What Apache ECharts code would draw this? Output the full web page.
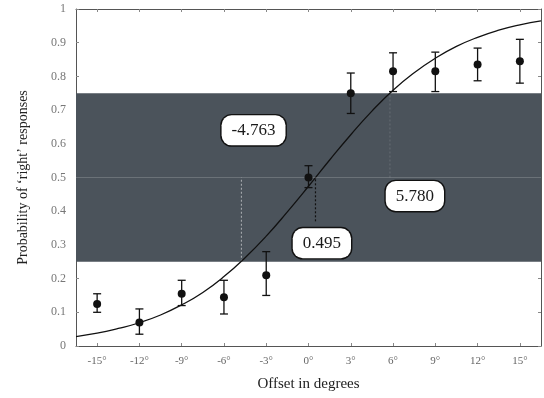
<!DOCTYPE html>
<html>
<head>
<meta charset="utf-8">
<script src="https://cdn.jsdelivr.net/npm/echarts@6/dist/echarts.min.js"></script>
<style>
  html, body { margin: 0; padding: 0; background: #fff; }
  #chart { width: 544px; height: 398px; }
</style>
</head>
<body>
<div id="chart"></div>
<script>
// observed proportions with error bars
const offsets = [-15, -12, -9, -6, -3, 0, 3, 6, 9, 12, 15]
const means = [0.125, 0.07, 0.155, 0.145, 0.21, 0.50, 0.75, 0.815, 0.815, 0.835, 0.845]
const lows = [0.10, 0.035, 0.12, 0.095, 0.15, 0.47, 0.69, 0.755, 0.755, 0.787, 0.78]
const highs = [0.155, 0.11, 0.195, 0.195, 0.28, 0.535, 0.81, 0.87, 0.872, 0.884, 0.91]

// fitted curve
const curveX = [-16.5, -15, -13.5, -12, -10.5, -9, -7.5, -6, -4.5, -3, -1.5, 0, 1.5, 3, 4.5, 6, 7.5, 9, 10.5, 12, 13.5, 15, 16.5]
const curveY = [0.028, 0.038, 0.052, 0.069, 0.092, 0.122, 0.159, 0.206, 0.262, 0.326, 0.398, 0.474, 0.552, 0.627, 0.697, 0.759, 0.811, 0.854, 0.889, 0.916, 0.937, 0.953, 0.965]

// thresholds and their labels
const thresholds = [-4.763, 0.495, 5.780]
const thresholdLabels = ['-4.763', '0.495', '5.780']
const labelSpots = [[-3.9, 0.64], [0.95, 0.305], [7.55, 0.445]]

const xTicks = [-15, -12, -9, -6, -3, 0, 3, 6, 9, 12, 15]
const band = [0.25, 0.75]

const SERIF = '"Liberation Serif", "DejaVu Serif", serif'

const chart = echarts.init(document.getElementById('chart'))

const errorBars = offsets.map((x, i) => [x, lows[i], highs[i]])

chart.setOption({
  animation: false,
  backgroundColor: '#fff',
  grid: { left: 76, right: 3, top: 9, bottom: 52 },
  xAxis: [
    {
      type: 'value', min: -16.5, max: 16.5,
      name: 'Offset in degrees', nameLocation: 'middle', nameGap: 31,
      nameTextStyle: { fontFamily: SERIF, fontSize: 15, color: '#222' },
      axisLine: { show: true, onZero: false, lineStyle: { color: '#555', width: 1 } },
      axisTick: { inside: true, length: 3, customValues: xTicks, lineStyle: { color: '#888' } },
      axisLabel: {
        customValues: xTicks, formatter: (v) => v + '°',
        fontFamily: SERIF, fontSize: 11, color: '#666', margin: 10,
      },
      splitLine: { show: false },
    },
    {
      type: 'value', min: -16.5, max: 16.5, position: 'top',
      axisLine: { show: true, onZero: false, lineStyle: { color: '#555', width: 1 } },
      axisTick: { inside: true, length: 3, customValues: xTicks, lineStyle: { color: '#888' } },
      axisLabel: { show: false },
      splitLine: { show: false },
    },
  ],
  yAxis: [
    {
      type: 'value', min: 0, max: 1, interval: 0.1,
      name: 'Probability of ‘right’ responses', nameLocation: 'middle', nameGap: 46,
      nameTextStyle: { fontFamily: SERIF, fontSize: 14, color: '#222' },
      axisLine: { show: true, onZero: false, lineStyle: { color: '#555', width: 1 } },
      axisTick: { show: true, inside: true, length: 3, lineStyle: { color: '#888' } },
      axisLabel: {
        formatter: (v) => String(Math.round(v * 10) / 10),
        fontFamily: SERIF, fontSize: 12, color: '#777', margin: 10,
      },
      splitLine: { show: false },
    },
    {
      type: 'value', min: 0, max: 1, interval: 0.1, position: 'right',
      axisLine: { show: true, onZero: false, lineStyle: { color: '#555', width: 1 } },
      axisTick: { show: true, inside: true, length: 3, lineStyle: { color: '#888' } },
      axisLabel: { show: false },
      splitLine: { show: false },
    },
  ],
  series: [
    {
      // shaded band between 25% and 75%
      type: 'line', data: [], silent: true, z: 1,
      markArea: {
        silent: true,
        itemStyle: { color: '#4b535b' },
        data: [[{ yAxis: band[0] }, { yAxis: band[1] }]],
      },
      markLine: {
        silent: true, symbol: 'none', label: { show: false },
        lineStyle: { color: 'rgba(255,255,255,0.18)', type: 'solid', width: 1 },
        data: [{ yAxis: 0.5 }],
      },
    },
    {
      // dotted drop lines at thresholds
      type: 'line', silent: true, symbol: 'none', z: 2,
      data: [[thresholds[0], band[0]], [thresholds[0], 0.5]],
      lineStyle: { color: 'rgba(255,255,255,0.55)', type: [2, 2], width: 1 },
    },
    {
      type: 'line', silent: true, symbol: 'none', z: 2,
      data: [[thresholds[1], 0.37], [thresholds[1], 0.5]],
      lineStyle: { color: '#111', type: [2, 2], width: 1.2 },
    },
    {
      type: 'line', silent: true, symbol: 'none', z: 2,
      data: [[thresholds[2], 0.5], [thresholds[2], band[1]]],
      lineStyle: { color: 'rgba(255,255,255,0.15)', type: [2, 2], width: 1 },
    },
    {
      name: 'fit', type: 'line', smooth: true, symbol: 'none', z: 3,
      data: curveX.map((x, i) => [x, curveY[i]]),
      lineStyle: { color: '#111', width: 1.3 },
    },
    {
      name: 'error', type: 'custom', z: 4,
      data: errorBars,
      renderItem: (params, api) => {
        const x = api.value(0)
        const lo = api.coord([x, api.value(1)])
        const hi = api.coord([x, api.value(2)])
        const cap = 4
        const style = { stroke: '#111', lineWidth: 1.3 }
        return {
          type: 'group',
          children: [
            { type: 'line', shape: { x1: lo[0], y1: lo[1], x2: hi[0], y2: hi[1] }, style },
            { type: 'line', shape: { x1: lo[0] - cap, y1: lo[1], x2: lo[0] + cap, y2: lo[1] }, style },
            { type: 'line', shape: { x1: hi[0] - cap, y1: hi[1], x2: hi[0] + cap, y2: hi[1] }, style },
          ],
        }
      },
    },
    {
      name: 'data', type: 'scatter', z: 5,
      symbol: 'circle', symbolSize: 8,
      itemStyle: { color: '#111', opacity: 1 },
      data: offsets.map((x, i) => [x, means[i]]),
    },
    {
      name: 'labels', type: 'scatter', z: 6, symbolSize: 0,
      itemStyle: { opacity: 1 },
      data: labelSpots.map((p, i) => ({ value: p, name: thresholdLabels[i] })),
      label: {
        show: true, position: 'inside', formatter: '{b}',
        fontFamily: SERIF, fontSize: 17, color: '#1a1a1a',
        backgroundColor: '#fff', borderColor: '#111', borderWidth: 1.4,
        borderRadius: 10, padding: [7, 10, 6, 10],
      },
    },
  ],
})
</script>
</body>
</html>
